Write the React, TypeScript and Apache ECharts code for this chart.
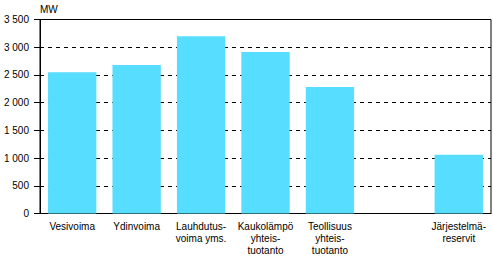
import React, { useEffect, useRef } from "react";
import * as echarts from "echarts";

const categories = [
  "Vesivoima",
  "Ydinvoima",
  "Lauhdutus-\nvoima yms.",
  "Kaukolämpö\nyhteis-\ntuotanto",
  "Teollisuus\nyhteis-\ntuotanto",
  "",
  "Järjestelmä-\nreservit",
];
const values: (number | null)[] = [2550, 2680, 3200, 2915, 2280, null, 1060];
const unitLabel = "MW";

export default function App() {
  const ref = useRef<HTMLDivElement>(null);
  useEffect(() => {
    if (!ref.current) return;
    const chart = echarts.init(ref.current, undefined, { renderer: "svg" });
    const font = "'Liberation Sans', Arial, sans-serif";
    chart.setOption({
      animation: false,
      backgroundColor: "#ffffff",
      grid: {
        left: 40,
        right: 2,
        top: 19.5,
        bottom: 43.5,
        show: true,
        borderColor: "#000",
        borderWidth: 1,
        backgroundColor: "transparent",
      },
      graphic: [
        {
          type: "text",
          left: 40,
          top: 4,
          style: { text: unitLabel, font: `10px ${font}`, fill: "#000" },
        },
      ],
      xAxis: {
        type: "category",
        data: categories,
        axisLine: { show: true, lineStyle: { color: "#000", width: 1 } },
        axisTick: { show: false },
        axisLabel: {
          interval: 0,
          color: "#000",
          fontSize: 10,
          fontFamily: font,
          lineHeight: 12,
          margin: 7,
        },
      },
      yAxis: {
        type: "value",
        min: 0,
        max: 3500,
        interval: 500,
        axisLine: { show: true, lineStyle: { color: "#000", width: 1 } },
        axisTick: { show: true, length: 6, lineStyle: { color: "#000" } },
        axisLabel: {
          color: "#000",
          fontSize: 10,
          fontFamily: font,
          margin: 11,
          formatter: (v: number) =>
            String(v).replace(/\B(?=(\d{3})+(?!\d))/g, " "),
        },
        splitLine: {
          show: true,
          lineStyle: { color: "#000", type: [4, 4], width: 1 },
        },
      },
      series: [
        {
          type: "bar",
          data: values,
          barWidth: "75%",
          itemStyle: { color: "#57DDFF" },
        },
      ],
    });
    return () => chart.dispose();
  }, []);
  return (
    <div
      ref={ref}
      style={{ position: "fixed", left: 0, top: 0, width: 493, height: 257 }}
    />
  );
}
